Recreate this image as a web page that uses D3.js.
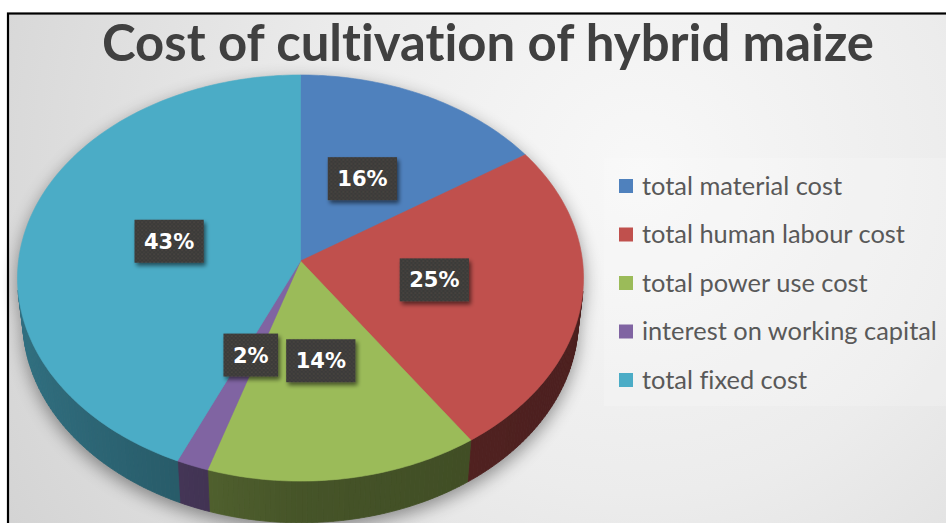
<!DOCTYPE html>
<html>
<head>
<meta charset="utf-8">
<script src="https://cdn.jsdelivr.net/npm/d3@7"></script>
<style>
  html, body { margin: 0; padding: 0; background: #ffffff; }
  svg { display: block; }
  text { font-variant-ligatures: none; font-feature-settings: "liga" 0, "clig" 0; }
</style>
</head>
<body>
<svg id="chart" width="946" height="523"></svg>
<script>
// ---- data ----
const title = "Cost of cultivation of hybrid maize";
const categories = ["total material cost", "total human labour cost", "total power use cost", "interest on working capital", "total fixed cost"];
const values = [15.7, 24.8, 14.4, 1.7, 43.4];
const colors = ["#4F81BD", "#C0504D", "#9BBB59", "#8064A2", "#4BACC6"];

// ---- setup ----
const W = 946, H = 523;
const svg = d3.select("#chart");
const defs = svg.append("defs");
const total = d3.sum(values);
const pct = d3.format(".0%");

// background gradient
const bg = defs.append("radialGradient").attr("id", "bgGrad")
  .attr("gradientUnits", "userSpaceOnUse").attr("cx", 640).attr("cy", 170).attr("r", 720);
bg.append("stop").attr("offset", 0).attr("stop-color", "#f8f8f8");
bg.append("stop").attr("offset", 0.45).attr("stop-color", "#ececec");
bg.append("stop").attr("offset", 1).attr("stop-color", "#d4d4d4");

// pie shadow filter
const sh = defs.append("filter").attr("id", "pieShadow")
  .attr("x", "-20%").attr("y", "-20%").attr("width", "140%").attr("height", "140%");
sh.append("feGaussianBlur").attr("in", "SourceAlpha").attr("stdDeviation", 9).attr("result", "b");
sh.append("feOffset").attr("in", "b").attr("dx", 0).attr("dy", 6).attr("result", "o");
sh.append("feComponentTransfer").attr("in", "o")
  .append("feFuncA").attr("type", "linear").attr("slope", 0.42);

// label shadow filter
const lsh = defs.append("filter").attr("id", "lblShadow")
  .attr("x", "-30%").attr("y", "-30%").attr("width", "160%").attr("height", "160%");
lsh.append("feGaussianBlur").attr("in", "SourceAlpha").attr("stdDeviation", 2.2).attr("result", "b");
lsh.append("feOffset").attr("in", "b").attr("dx", 2).attr("dy", 3).attr("result", "o");
lsh.append("feComponentTransfer").attr("in", "o").attr("result", "s")
  .append("feFuncA").attr("type", "linear").attr("slope", 0.55);
const lm = lsh.append("feMerge");
lm.append("feMergeNode").attr("in", "s");
lm.append("feMergeNode").attr("in", "SourceGraphic");

// dotted label pattern
const pat = defs.append("pattern").attr("id", "dots").attr("patternUnits", "userSpaceOnUse")
  .attr("width", 4).attr("height", 4);
pat.append("rect").attr("width", 4).attr("height", 4).attr("fill", "#3b3a39");
pat.append("circle").attr("cx", 1).attr("cy", 1).attr("r", 0.55).attr("fill", "#6e5f4e");
pat.append("circle").attr("cx", 3).attr("cy", 3).attr("r", 0.55).attr("fill", "#5d5246");

// background + frame
svg.append("rect").attr("x", 0).attr("y", 0).attr("width", W).attr("height", H).attr("fill", "#ffffff");
svg.append("rect").attr("x", 8).attr("y", 13.5).attr("width", W + 20).attr("height", H + 20)
  .attr("fill", "url(#bgGrad)").attr("stroke", "#000").attr("stroke-width", 2.2);

// legend panel (subtle)
svg.append("rect").attr("x", 604).attr("y", 158).attr("width", 350).attr("height", 248)
  .attr("fill", "#ffffff").attr("opacity", 0.18);

// ---- 3D perspective projection of the pie ----
const cx = 300.5, cy = 261;
const Dcam = 1, R = 0.12, F = 2350;
const sinP = 0.715, cosP = Math.sqrt(1 - sinP * sinP);
const depth = 0.0262;

function proj(theta, rf, y) {
  const X = R * rf * Math.sin(theta);
  const Z = R * rf * Math.cos(theta);
  const d = Dcam - y * sinP + Z * cosP;
  const v = y * cosP + Z * sinP;
  return [cx + F * X / d, cy - F * v / d];
}

const pie = d3.pie().sort(null).value(d => d).startAngle(0).endAngle(2 * Math.PI);
const arcs = pie(values);
const line = d3.line();

function rim(a0, a1, y) {
  const pts = [];
  const steps = Math.max(2, Math.ceil(Math.abs(a1 - a0) / (Math.PI / 180)));
  for (let i = 0; i <= steps; i++) {
    const t = a0 + (a1 - a0) * i / steps;
    pts.push(proj(t, 1, y));
  }
  return pts;
}

// shadow
const shadowG = svg.append("g").attr("filter", "url(#pieShadow)");
shadowG.append("path").attr("d", line(rim(0, 2 * Math.PI, 0)) + "Z").attr("fill", "#000");
shadowG.append("path").attr("d", line(rim(0, 2 * Math.PI, -depth)) + "Z").attr("fill", "#000");

// side walls (visible where the outer normal faces the camera)
const visLimit = -R / (Dcam * cosP);
const wallG = svg.append("g");
arcs.forEach((a, i) => {
  const step = Math.PI / 180;
  const base = d3.rgb(colors[i]);
  for (let t = a.startAngle; t < a.endAngle - 1e-9; t += step) {
    const t1 = Math.min(a.endAngle, t + step);
    const tm = (t + t1) / 2;
    if (Math.cos(tm) > visLimit + 0.02) continue;
    const s = Math.sin(tm);
    const k = 0.45 + 0.2 * Math.max(0, -s) - 0.06 * Math.max(0, s);
    const c = d3.rgb(base.r * k, base.g * k, base.b * k).formatHex();
    const pts = [proj(t, 1, 0), proj(t1, 1, 0), proj(t1, 1, -depth), proj(t, 1, -depth)];
    wallG.append("path").attr("d", line(pts) + "Z").attr("fill", c).attr("stroke", c).attr("stroke-width", 0.8);
  }
});

// top surface
const topG = svg.append("g");
arcs.forEach((a, i) => {
  const pts = [proj(0, 0, 0)].concat(rim(a.startAngle, a.endAngle, 0));
  topG.append("path").attr("d", line(pts) + "Z")
    .attr("fill", colors[i]).attr("stroke", colors[i]).attr("stroke-width", 0.6);
});

// data labels
const lblG = svg.append("g");
arcs.forEach((a, i) => {
  const mid = (a.startAngle + a.endAngle) / 2;
  const [lx, ly] = proj(mid, 0.48, 0);
  const g = lblG.append("g").attr("transform", `translate(${lx},${ly})`);
  const rect = g.append("rect").attr("fill", "url(#dots)").attr("filter", "url(#lblShadow)");
  const txt = g.append("text").attr("text-anchor", "middle").attr("dy", "0.36em")
    .attr("fill", "#ffffff").attr("font-family", "'DejaVu Sans', Verdana, sans-serif")
    .attr("font-weight", "bold").attr("font-size", 21).text(pct(values[i] / total));
  const w = txt.node().getComputedTextLength() + 19;
  rect.attr("x", -w / 2).attr("y", -21.5).attr("width", w).attr("height", 43);
});

// title
const tt = svg.append("text").attr("x", 488).attr("y", 61).attr("text-anchor", "middle")
  .attr("fill", "#404040").attr("font-family", "Lato, 'Open Sans', sans-serif")
  .attr("font-weight", "bold").attr("font-size", 52).text(title);
const tw = tt.node().getComputedTextLength();
if (tw > 772) tt.attr("textLength", 772).attr("lengthAdjust", "spacingAndGlyphs");

// legend
const legG = svg.append("g");
const texts = [];
categories.forEach((c, i) => {
  const y = 186 + i * 48.5;
  legG.append("rect").attr("x", 619).attr("y", y - 7).attr("width", 14).attr("height", 14).attr("fill", colors[i]);
  const t = legG.append("text").attr("x", 642).attr("y", y).attr("dy", "0.35em")
    .attr("fill", "#595959").attr("font-family", "Lato, 'Open Sans', sans-serif")
    .attr("font-size", 24).text(c);
  texts.push(t);
});
const widths = texts.map(t => t.node().getComputedTextLength());
const maxW = d3.max(widths);
const fs = 24 * 295 / maxW;
texts.forEach(t => t.attr("font-size", Math.min(26, fs)));
</script>
</body>
</html>
